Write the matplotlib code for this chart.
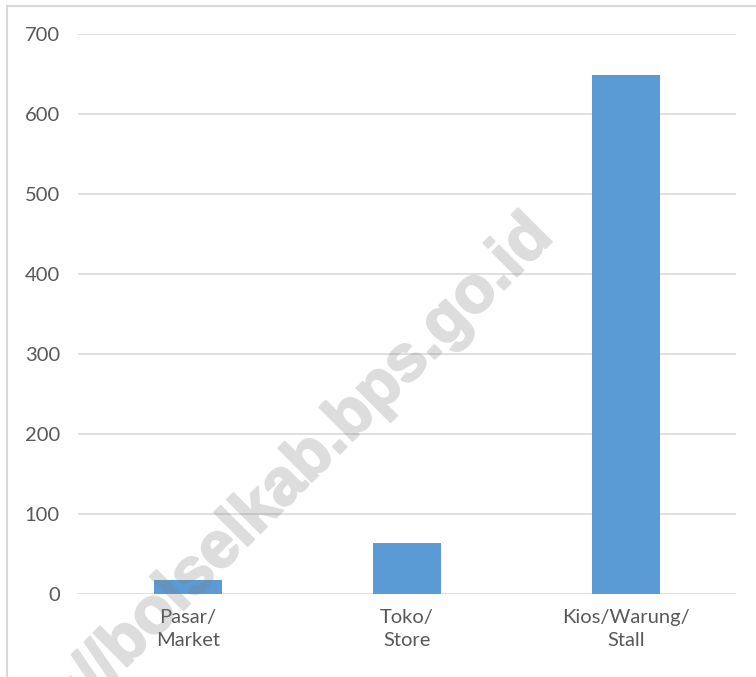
import numpy as np
import matplotlib
matplotlib.use("Agg")
import matplotlib.pyplot as plt
import matplotlib.patheffects as pe
from matplotlib.patches import Rectangle
from matplotlib.textpath import TextPath
from matplotlib.font_manager import FontProperties

categories = ["Pasar/\nMarket", "Toko/\nStore", "Kios/Warung/\nStall"]
values = [18, 64, 649]
yticks = [0, 100, 200, 300, 400, 500, 600, 700]
watermark = "http://bolselkab.bps.go.id"

W, H = 756, 677
DPI = 100
fig = plt.figure(figsize=(W / DPI, H / DPI), dpi=DPI)
ax = fig.add_axes([78 / W, (H - 594) / H, (736 - 78) / W, (594 - 34) / H])

x = list(range(len(categories)))
ax.bar(x, values, width=0.31, color="#5b9bd5", zorder=3)
ax.set_xlim(-0.5, 2.5)
ax.set_ylim(0, 700)
ax.set_yticks(yticks)
ax.set_yticklabels([str(t) for t in yticks])
ax.set_xticks(x)
ax.set_xticklabels(categories, linespacing=1.4)
ax.grid(axis="y", color="#d9d9d9", linewidth=1.2, zorder=0)
for s in ax.spines.values():
    s.set_visible(False)
ax.tick_params(axis="both", length=0, colors="#595959", labelsize=14.5)
ax.tick_params(axis="y", pad=13)
ax.tick_params(axis="x", pad=11)
for lab in ax.get_xticklabels() + ax.get_yticklabels():
    lab.set_family("Lato")

# figure border
fig.patches.append(Rectangle((7 / W, -0.1), 1.2, (H - 6) / H + 0.1, transform=fig.transFigure,
                             fill=False, edgecolor="#d9d9d9", linewidth=1.5, zorder=0))

# watermark: place so the dot of "kab." lands where it is in the reference
fs = 47
fp = FontProperties(family="Liberation Sans", weight="bold", size=fs)
prefix = watermark[:watermark.index("kab.") + 4]
ext = TextPath((0, 0), prefix, prop=fp).get_extents()
em_px = fs * DPI / 72
along = ext.x1 * DPI / 72 - 0.07 * em_px
up = 0.07 * em_px
ang = np.deg2rad(45)
u = np.array([np.cos(ang), np.sin(ang)])
n = np.array([-np.sin(ang), np.cos(ang)])
target = np.array([340, H - 447])
anchor = target - along * u - up * n


def group_alpha(im, dpi):
    out = im.copy()
    out[..., 3] *= 0.27
    return out, 0, 0


wm = fig.text(anchor[0] / W, anchor[1] / H, watermark, rotation=45,
              rotation_mode="anchor", ha="left", va="baseline", fontproperties=fp,
              color="#808080", zorder=10)
wm.set_path_effects([pe.withStroke(linewidth=1.6, foreground="#808080")])
wm.set_agg_filter(group_alpha)

fig.savefig("out.png", dpi=DPI)
